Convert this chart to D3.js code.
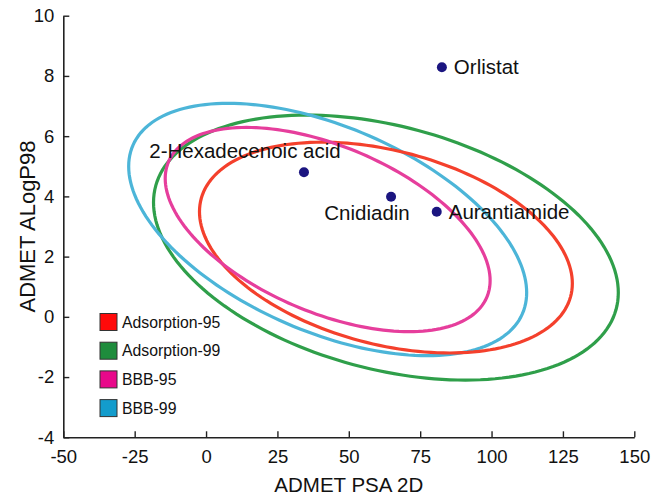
<!DOCTYPE html>
<html>
<head>
<meta charset="utf-8">
<script src="https://cdn.jsdelivr.net/npm/d3@7"></script>
<style>
  body { margin: 0; background: #fff; }
  text { font-family: "Liberation Sans", Arial, sans-serif; fill: #111; }
</style>
</head>
<body>
<div id="chart"></div>
<script>
const WIDTH = 660;
const HEIGHT = 497;

// === DATA ===
const xTicks = [-50, -25, 0, 25, 50, 75, 100, 125, 150];
const yTicks = [-4, -2, 0, 2, 4, 6, 8, 10];

// compounds (PSA 2D, AlogP98)
const compounds = ["Orlistat", "2-Hexadecenoic acid", "Cnidiadin", "Aurantiamide"];
const psa = [82.6, 34.3, 64.8, 80.8];
const alogp = [8.29, 4.80, 3.99, 3.49];

// confidence ellipses: centre, half-extent in x and y, correlation
const ellipseNames = ["Adsorption-95", "Adsorption-99", "BBB-95", "BBB-99"];
const ellCx = [63.0, 63.0, 42.6, 42.6];
const ellCy = [2.30, 2.30, 2.90, 2.90];
const ellSx = [65.3, 81.4, 56.9, 69.7];
const ellSy = [3.50, 4.40, 3.39, 4.19];
const ellRho = [-0.34, -0.34, -0.50, -0.50];

// === STYLE ===
const lineColor = ["#f4402c", "#2f9f4a", "#e63e9c", "#4cb5d8"];
const boxColor = ["#ff0a0a", "#1e8c3c", "#e8088a", "#139ccc"];
const drawOrder = [1, 3, 0, 2];

// label offsets in px from the dot
const labelOff = {
    "Orlistat": { dx: 12, dy: 7, anchor: "start" },
    "2-Hexadecenoic acid": { dx: -59, dy: -14, anchor: "middle" },
    "Cnidiadin": { dx: -24, dy: 23, anchor: "middle" },
    "Aurantiamide": { dx: 12, dy: 7, anchor: "start" }
};

const svg = d3.select("#chart")
    .append("svg")
    .attr("width", WIDTH)
    .attr("height", HEIGHT);

const x = d3.scaleLinear().domain([-50, 150]).range([63.3, 634.3]);
const y = d3.scaleLinear().domain([-4, 10]).range([437.3, 15.7]);

// === ELLIPSES ===
const angles = d3.range(0, 360, 2).map(a => a * Math.PI / 180);
const line = d3.line()
    .x(d => x(d[0]))
    .y(d => y(d[1]))
    .curve(d3.curveLinearClosed);

drawOrder.forEach(i => {
    const r = ellRho[i];
    const k = Math.sqrt(1 - r * r);
    const pts = angles.map(t => [
        ellCx[i] + ellSx[i] * Math.cos(t),
        ellCy[i] + ellSy[i] * (r * Math.cos(t) + k * Math.sin(t))
    ]);
    svg.append("path")
        .attr("d", line(pts))
        .attr("fill", "none")
        .attr("stroke", lineColor[i])
        .attr("stroke-width", 3.2);
});

// === AXES ===
// plain hyphen for negatives, like the original
const fmt = d => String(d);

const xAxis = svg.append("g")
    .attr("transform", `translate(0,${y(-4)})`)
    .call(d3.axisBottom(x).tickValues(xTicks).tickFormat(fmt)
        .tickSizeInner(-6).tickSizeOuter(0).tickPadding(13));

const yAxis = svg.append("g")
    .attr("transform", `translate(${x(-50)},0)`)
    .call(d3.axisLeft(y).tickValues(yTicks).tickFormat(fmt)
        .tickSizeInner(-6).tickSizeOuter(0).tickPadding(9));

[xAxis, yAxis].forEach(g => {
    g.select(".domain").attr("stroke", "#222").attr("stroke-width", 1.6);
    g.selectAll(".tick line").attr("stroke", "#222").attr("stroke-width", 1.4);
    g.selectAll(".tick text")
        .attr("fill", "#111")
        .style("font-family", '"Liberation Sans", Arial, sans-serif')
        .style("font-size", "18.5px");
});

svg.append("text")
    .attr("x", (x(-50) + x(150)) / 2)
    .attr("y", 492)
    .attr("text-anchor", "middle")
    .style("font-size", "20.5px")
    .text("ADMET PSA 2D");

svg.append("text")
    .attr("transform", `translate(35,${(y(-4) + y(10)) / 2}) rotate(-90)`)
    .attr("text-anchor", "middle")
    .style("font-size", "22px")
    .text("ADMET ALogP98");

// === POINTS ===
compounds.forEach((name, i) => {
    const px = x(psa[i]);
    const py = y(alogp[i]);
    const o = labelOff[name];
    svg.append("circle")
        .attr("cx", px)
        .attr("cy", py)
        .attr("r", 5)
        .attr("fill", "#1b1580");
    svg.append("text")
        .attr("x", px + o.dx)
        .attr("y", py + o.dy)
        .attr("text-anchor", o.anchor)
        .style("font-size", "20.5px")
        .text(name);
});

// === LEGEND ===
const legend = svg.append("g").attr("transform", "translate(100,322)");
ellipseNames.forEach((name, i) => {
    const row = legend.append("g").attr("transform", `translate(0,${i * 28.7})`);
    row.append("rect")
        .attr("x", 0)
        .attr("y", -8.5)
        .attr("width", 17)
        .attr("height", 17)
        .attr("fill", boxColor[i])
        .attr("stroke", "#333")
        .attr("stroke-width", 1);
    row.append("text")
        .attr("x", 22)
        .attr("y", 0)
        .attr("dy", "0.35em")
        .style("font-size", "15.8px")
        .text(name);
});
</script>
</body>
</html>
